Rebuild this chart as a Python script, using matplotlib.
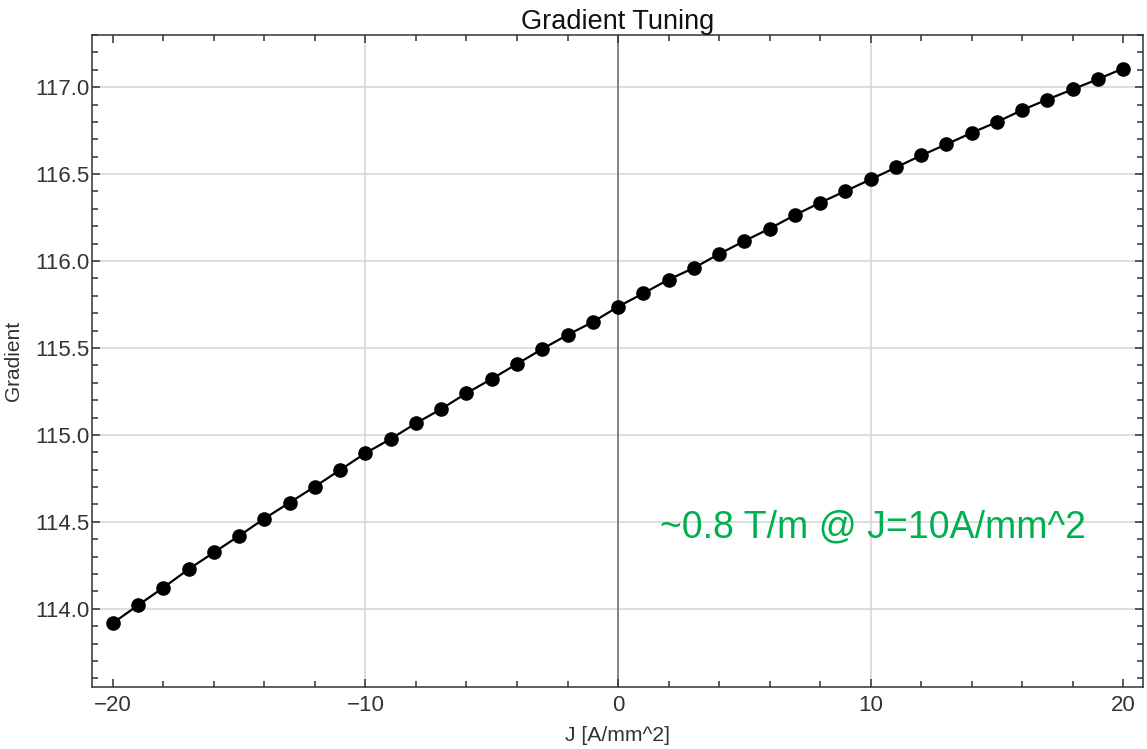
import matplotlib
matplotlib.use("Agg")
import matplotlib.pyplot as plt
from matplotlib.ticker import MultipleLocator

plt.rcParams['font.family'] = ['Liberation Sans', 'DejaVu Sans']

# current density J [A/mm^2] and resulting gradient
J = list(range(-20, 21))
gradient = [113.918, 114.021, 114.122, 114.228, 114.324, 114.420, 114.519, 114.611,
            114.703, 114.799, 114.895, 114.977, 115.067, 115.149, 115.240, 115.322,
            115.408, 115.494, 115.575, 115.649, 115.737, 115.814, 115.893, 115.960,
            116.040, 116.115, 116.186, 116.264, 116.335, 116.402, 116.469, 116.538,
            116.607, 116.671, 116.737, 116.799, 116.868, 116.929, 116.987, 117.046,
            117.107]

title = "Gradient Tuning"
xlabel = "J [A/mm^2]"
ylabel = "Gradient"
note = "~0.8 T/m @ J=10A/mm^2"

fig = plt.figure(figsize=(11.47, 7.49), dpi=100)
ax = fig.add_axes([92/1147, 1 - 687/749, 1051/1147, 652/749])

# grid (Mathematica-ish), with darker axis line at x=0
for yg in [114.0, 114.5, 115.0, 115.5, 116.0, 116.5, 117.0]:
    ax.axhline(yg, color='#d4d4d4', lw=1.1, zorder=0)
for xg in [-10, 10]:
    ax.axvline(xg, color='#d4d4d4', lw=1.1, zorder=0)
ax.axvline(0, color='#707070', lw=1.2, zorder=1)

ax.plot(J, gradient, color='black', lw=1.6, marker='o', markersize=9.5, zorder=3)

ax.set_xlim(-20.83, 20.79)
ax.set_ylim(113.55, 117.30)

ax.xaxis.set_major_locator(MultipleLocator(10))
ax.xaxis.set_minor_locator(MultipleLocator(2))
ax.yaxis.set_major_locator(MultipleLocator(0.5))
ax.yaxis.set_minor_locator(MultipleLocator(0.1))
ax.yaxis.set_major_formatter(matplotlib.ticker.FormatStrFormatter('%.1f'))

ax.tick_params(which='both', direction='in', top=True, right=True,
               colors='#333333', labelcolor='#333333', labelsize=16)
ax.tick_params(which='major', length=6, width=1.1)
ax.tick_params(which='minor', length=4, width=1.1)
ax.tick_params(axis='x', pad=6)
ax.tick_params(axis='y', pad=2)

for s in ax.spines.values():
    s.set_color('#333333')
    s.set_linewidth(1.1)

ax.set_title(title, fontsize=19.5, color='#111111', pad=4)
ax.set_xlabel(xlabel, fontsize=15.2, color='#333333')
ax.set_ylabel(ylabel, fontsize=15, color='#333333')
ax.xaxis.set_label_coords(0.5, -0.060)
ax.yaxis.set_label_coords(-0.066, 0.5)

ax.text(0.540, 0.230, note, transform=ax.transAxes, fontsize=27,
        color='#00b050', ha='left', va='baseline')

fig.savefig('out.png', dpi=100)
